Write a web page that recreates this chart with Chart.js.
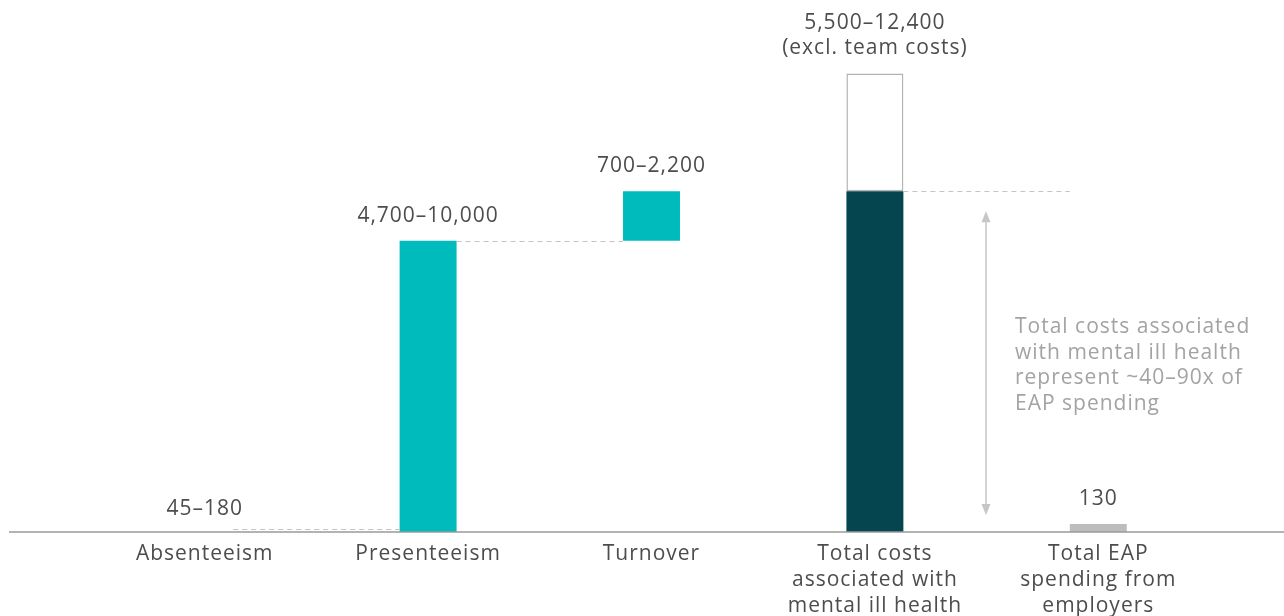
<!DOCTYPE html>
<html>
<head>
<meta charset="utf-8">
<script src="https://cdn.jsdelivr.net/npm/chart.js@4.4.1/dist/chart.umd.min.js"></script>
<style>
  html, body { margin: 0; padding: 0; background: #ffffff; }
  #wrap { width: 1284px; height: 616px; position: relative; }
</style>
</head>
<body>
<div id="wrap"><canvas id="c" width="1284" height="616"></canvas></div>
<script>
// ---- data ----
const categories = [
  ['Absenteeism'],
  ['Presenteeism'],
  ['Turnover'],
  ['Total costs', 'associated with', 'mental ill health'],
  ['Total EAP', 'spending from', 'employers']
];
// floating bar ranges [start, end] (axis units, as drawn)
const barStart = [0, 0, 4700, 0, 0];
const barEnd   = [45, 4700, 5500, 5500, 130];
// upper range extension drawn as an outlined bar (excl. team costs)
const upperStart = [null, null, null, 5500, null];
const upperEnd   = [null, null, null, 7400, null];
const valueLabels = [
  ['45–180'],
  ['4,700–10,000'],
  ['700–2,200'],
  ['5,500–12,400', '(excl. team costs)'],
  ['130']
];
const annotationLines = [
  'Total costs associated',
  'with mental ill health',
  'represent ~40–90x of',
  'EAP spending'
];

const FONT = '"Open Sans", "DejaVu Sans", sans-serif';
const TEAL = '#00BBBC';
const DARK = '#05454F';
const GREY = '#BDBDBD';
// absenteeism sliver is not visible in the original
const barColors = ['rgba(0,0,0,0)', TEAL, TEAL, DARK, GREY];

const mainData = barStart.map((s, i) => [s, barEnd[i]]);
const upperData = upperStart.map((s, i) => (s === null ? null : [s, upperEnd[i]]));

const overlay = {
  id: 'overlay',
  afterDatasetsDraw(chart) {
    const ctx = chart.ctx;
    const x = chart.scales.x, y = chart.scales.y;
    const bars = chart.getDatasetMeta(0).data;
    const upBars = chart.getDatasetMeta(1).data;
    const y0 = y.getPixelForValue(0);

    ctx.save();
    // baseline across the full width
    ctx.strokeStyle = '#9a9a9a';
    ctx.lineWidth = 1.5;
    ctx.beginPath();
    ctx.moveTo(9, y0);
    ctx.lineTo(chart.width, y0);
    ctx.stroke();

    // dashed connectors
    ctx.strokeStyle = '#c4c4c4';
    ctx.lineWidth = 1;
    ctx.setLineDash([5, 4]);
    const conn = (from, to, val) => {
      const py = Math.round(y.getPixelForValue(val)) + 0.5;
      ctx.beginPath();
      ctx.moveTo(bars[from].x + bars[from].width / 2, py);
      ctx.lineTo(bars[to].x - bars[to].width / 2, py);
      ctx.stroke();
    };
    conn(0, 1, barEnd[0]);
    conn(1, 2, barEnd[1]);
    conn(3, 4, barEnd[3]);
    ctx.setLineDash([]);

    // double arrow between total and EAP
    const ax = 986;
    const aTop = y.getPixelForValue(barEnd[3]) + 20;
    const aBot = y.getPixelForValue(barEnd[4]) - 9;
    ctx.strokeStyle = '#c6c6c6';
    ctx.fillStyle = '#c6c6c6';
    ctx.lineWidth = 1.5;
    ctx.beginPath();
    ctx.moveTo(ax, aTop + 4);
    ctx.lineTo(ax, aBot - 4);
    ctx.stroke();
    ctx.beginPath();
    ctx.moveTo(ax, aTop); ctx.lineTo(ax - 4.5, aTop + 11); ctx.lineTo(ax + 4.5, aTop + 11); ctx.closePath(); ctx.fill();
    ctx.beginPath();
    ctx.moveTo(ax, aBot); ctx.lineTo(ax - 4.5, aBot - 11); ctx.lineTo(ax + 4.5, aBot - 11); ctx.closePath(); ctx.fill();

    // value labels above bars
    ctx.font = '21px ' + FONT;
    ctx.letterSpacing = '1px';
    ctx.fillStyle = '#4d4d4d';
    ctx.textAlign = 'center';
    ctx.textBaseline = 'middle';
    valueLabels.forEach((lines, i) => {
      const top = upBars[i] && upperData[i] ? upBars[i].y : bars[i].y;
      const cx = bars[i].x;
      const lastY = top - (i === 0 ? 20 : 25);
      lines.forEach((t, k) => {
        ctx.fillText(t, cx, lastY - (lines.length - 1 - k) * 25);
      });
    });

    // annotation
    ctx.fillStyle = '#a3a3a3';
    ctx.textAlign = 'left';
    annotationLines.forEach((t, k) => {
      ctx.fillText(t, 1015, 327 + k * 25.7);
    });

    // category labels
    ctx.fillStyle = '#4d4d4d';
    ctx.textAlign = 'center';
    categories.forEach((lines, i) => {
      const cx = x.getPixelForValue(i);
      lines.forEach((t, k) => {
        ctx.fillText(t, cx, 554.5 + k * 26);
      });
    });
    ctx.restore();
  }
};

new Chart(document.getElementById('c'), {
  type: 'bar',
  data: {
    labels: categories.map(c => c.join(' ')),
    datasets: [
      {
        data: mainData,
        backgroundColor: barColors,
        borderWidth: 0,
        barPercentage: 0.255,
        categoryPercentage: 1,
        grouped: false,
        order: 1
      },
      {
        data: upperData,
        backgroundColor: '#ffffff',
        borderColor: '#b3b3b3',
        borderWidth: 1.5,
        borderSkipped: false,
        barPercentage: 0.255,
        categoryPercentage: 1,
        grouped: false,
        order: 2
      }
    ]
  },
  plugins: [overlay],
  options: {
    responsive: false,
    animation: false,
    events: [],
    layout: { padding: { left: 93, right: 74, top: 0, bottom: 84 } },
    plugins: { legend: { display: false }, tooltip: { enabled: false }, title: { display: false } },
    scales: {
      x: { display: false },
      y: { display: false, min: 0, max: 8585 }
    }
  }
});
</script>
</body>
</html>
